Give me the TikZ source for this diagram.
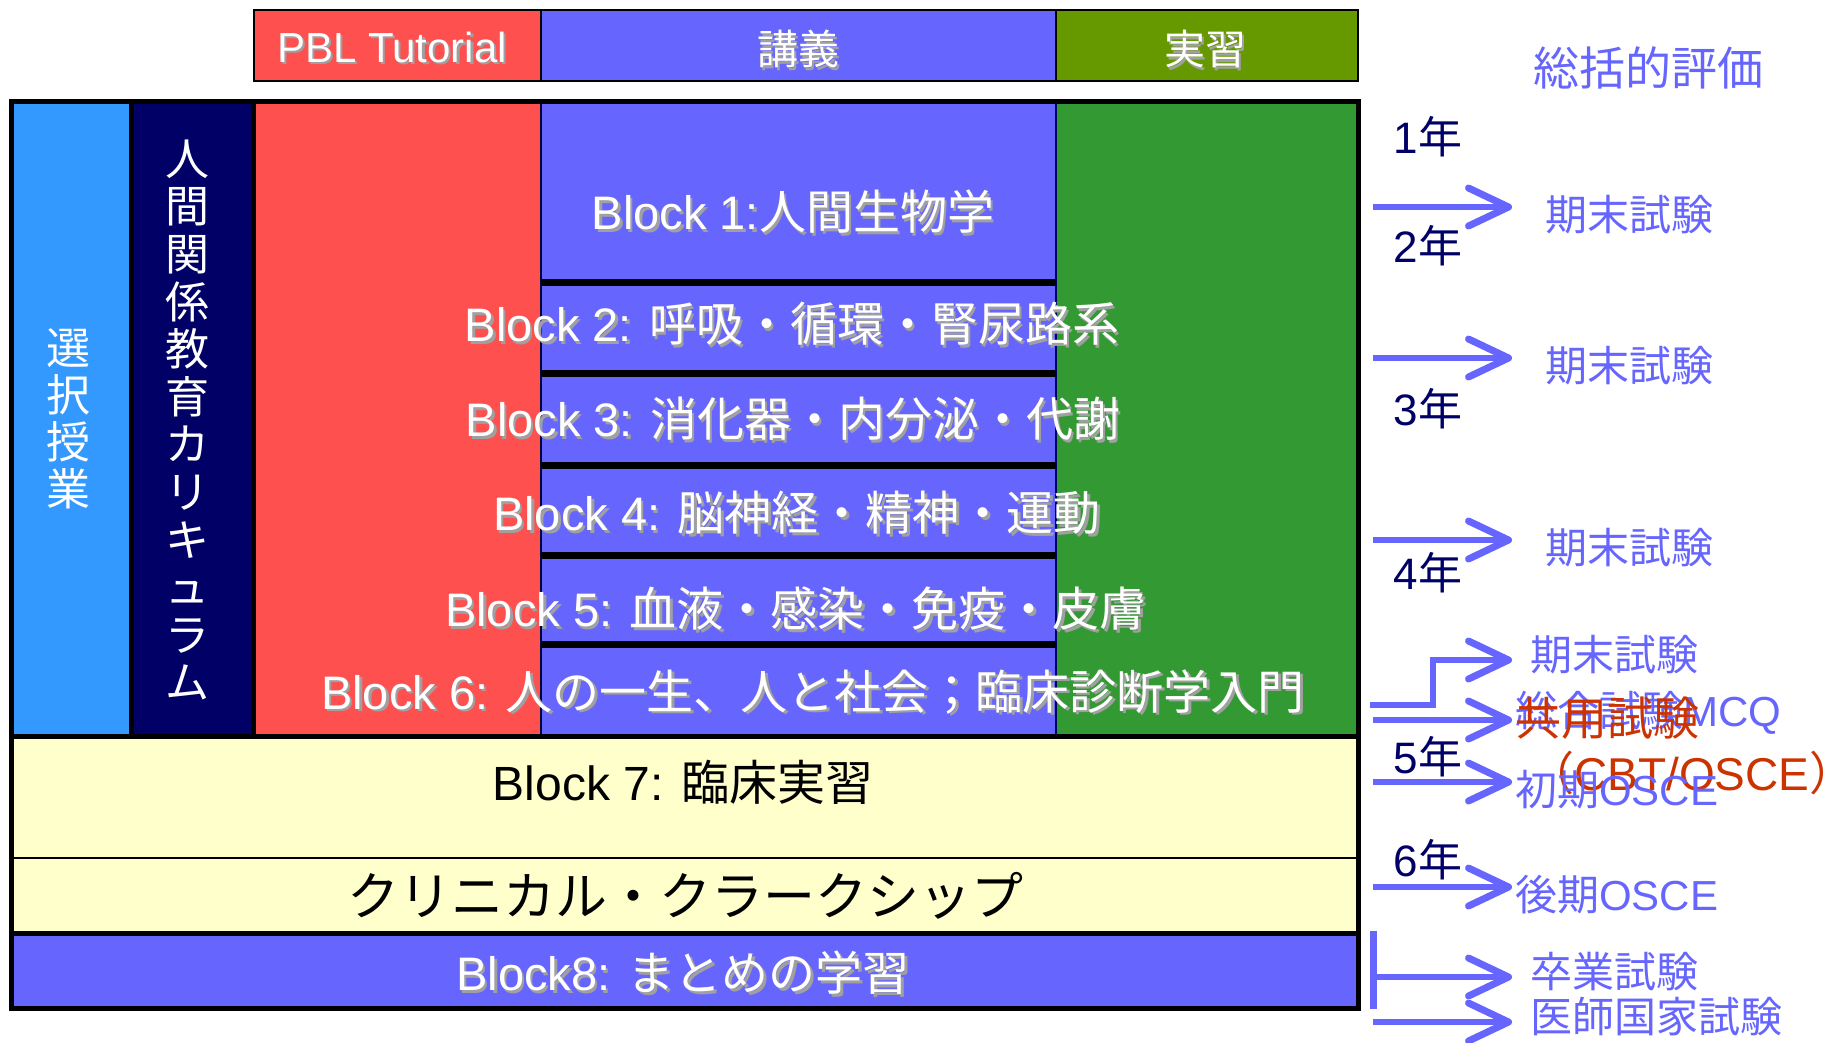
\documentclass[tikz,border=0pt]{standalone}
\usepackage{fontspec}
\setmainfont{Liberation Sans}
\newfontfamily\cjk{Noto Sans CJK JP}
\usetikzlibrary{arrows.meta}
\definecolor{skyb}{HTML}{3399FF}
\definecolor{navyc}{HTML}{000066}
\definecolor{redc}{HTML}{FF5050}
\definecolor{lect}{HTML}{6666FF}
\definecolor{greenc}{HTML}{339933}
\definecolor{olivec}{HTML}{669900}
\definecolor{cream}{HTML}{FFFFCC}
\definecolor{redtxt}{HTML}{CC3300}
\definecolor{shad}{RGB}{160,160,160}
\newcommand\J[1]{{\cjk #1}}
\newcommand\fs[1]{\fontsize{#1}{#1}\selectfont}
\newcommand\wnode[4]{%
  \node[txt,text=shad,font={\fs{#3}}] (#1s) at ([shift={(2.5,2.5)}]#2) {#4};
  \node[txt,text=white,font={\fs{#3}}] (#1) at (#2) {#4};}
\begin{document}
\begin{tikzpicture}[x=1pt,y=-1pt,
  txt/.style={inner sep=0pt,anchor=center},
  lab/.style={inner sep=0pt,anchor=west,text=lect,font={\fs{42}\cjk}},
  yr/.style={inner sep=0pt,anchor=center,text=navyc,font={\fs{44}}},
  evalarrow/.style={line width=6pt,draw=lect,line join=miter,
    -{Straight Barb[length=40pt,width=38pt,line width=7pt,round]}},
  thick line/.style={line width=5pt,draw=black}]
\useasboundingbox (0,0) rectangle (1835,1042);
\fill[white] (0,0) rectangle (1835,1042);
% header
\filldraw[draw=black,line width=2pt,fill=redc] (254,10) rectangle (541,81);
\filldraw[draw=black,line width=2pt,fill=lect] (541,10) rectangle (1056,81);
\filldraw[draw=black,line width=2pt,fill=olivec] (1056,10) rectangle (1358,81);
% main body fills
\fill[skyb] (11,101) rectangle (131,736);
\fill[navyc] (131,101) rectangle (253,736);
\fill[redc] (253,101) rectangle (541,736);
\fill[lect] (541,101) rectangle (1056,736);
\fill[greenc] (1056,101) rectangle (1358,736);
\fill[cream] (11,736) rectangle (1358,933);
\fill[lect] (11,933) rectangle (1358,1008);
\draw[line width=1.5pt,draw=navyc!60!black] (541,101) -- (541,736);
\draw[line width=1.5pt,draw=navyc] (1056,101) -- (1056,736);
\foreach \yy in {282,373,465,555,644}{\draw[line width=7pt] (541,\yy) -- (1056,\yy);}
\draw[thick line] (131,101) -- (131,736);
\draw[thick line] (253,101) -- (253,736);
\draw[thick line] (11,736) -- (1358,736);
\draw[line width=2pt] (11,858) -- (1358,858);
\draw[thick line] (11,933) -- (1358,933);
\draw[thick line] (11,101) rectangle (1358,1008);
% header texts
\wnode{tpbl}{392,47}{42}{PBL Tutorial}
\wnode{tlec}{798,49}{41}{\J{講義}}
\wnode{tjis}{1205,49}{41}{\J{実習}}
% vertical texts
\node[txt,text=white,align=center,font={\fontsize{44}{47}\selectfont\cjk}] (sentaku) at (68,419) {選\\択\\授\\業};
\node[txt,text=white,align=center,font={\fontsize{44}{47.6}\selectfont\cjk}] (ningen) at (187,420) {人\\間\\関\\係\\教\\育\\カ\\リ\\キ\\ュ\\ラ\\ム};
% block texts
\wnode{b1}{793,212}{47}{Block 1:\J{人間生物学}}
\wnode{b2}{792,324}{47}{Block 2: \J{呼吸・循環・腎尿路系}}
\wnode{b3}{793,419}{47}{Block 3: \J{消化器・内分泌・代謝}}
\wnode{b4}{797,513}{47}{Block 4: \J{脳神経・精神・運動}}
\wnode{b5}{796,609}{47}{Block 5: \J{血液・感染・免疫・皮膚}}
\wnode{b6}{813,692}{47}{Block 6: \J{人の一生、人と社会；臨床診断学入門}}
\node[txt,font={\fs{48}}] (b7) at (683,782) {Block 7: \J{臨床実習}};
\node[txt,font={\fs{52}\cjk}] (cc) at (685,896) {クリニカル・クラークシップ};
\wnode{b8}{683,973}{47}{Block8: \J{まとめの学習}}
% right side
\node[txt,text=lect,font={\fs{46}\cjk}] (sokatsu) at (1648,68) {総括的評価};
\node[yr] (y1) at (1428,137) {1\J{年}};
\node[yr] (y2) at (1428,246) {2\J{年}};
\node[yr] (y3) at (1428,409) {3\J{年}};
\node[yr] (y4) at (1428,573) {4\J{年}};
\node[yr] (y5) at (1428,757) {5\J{年}};
\node[yr] (y6) at (1428,860) {6\J{年}};
\coordinate (s1) at (1373,207); \coordinate (e1) at (1512,207);
\coordinate (s2) at (1373,358); \coordinate (e2) at (1512,358);
\coordinate (s3) at (1373,540); \coordinate (e3) at (1512,540);
\coordinate (s4) at (1370,705); \coordinate (k4) at (1433,660); \coordinate (e4) at (1512,660);
\coordinate (s5) at (1373,720); \coordinate (e5) at (1512,720);
\coordinate (s6) at (1373,782); \coordinate (e6) at (1512,782);
\coordinate (s7) at (1373,887); \coordinate (e7) at (1512,887);
\coordinate (bt) at (1373,931); \coordinate (bb) at (1373,1009);
\coordinate (s8) at (1373,977); \coordinate (e8) at (1512,977);
\coordinate (s9) at (1373,1022); \coordinate (e9) at (1512,1022);
\draw[evalarrow] (s1) -- (e1);
\draw[evalarrow] (s2) -- (e2);
\draw[evalarrow] (s3) -- (e3);
\draw[evalarrow] (s4) -| (k4) -- (e4);
\draw[evalarrow] (s5) -- (e5);
\draw[evalarrow] (s6) -- (e6);
\draw[evalarrow] (s7) -- (e7);
\draw[line width=7pt,draw=lect] (bt) -- (bb);
\draw[evalarrow] (s8) -- (e8);
\draw[evalarrow] (s9) -- (e9);
\node[lab] (k1) at (1545,215) {期末試験};
\node[lab] (k2) at (1545,366) {期末試験};
\node[lab] (k3) at (1545,548) {期末試験};
\node[lab] (k4t) at (1530,655) {期末試験};
\node[lab] (sogo) at (1515,713) {総合試験\rmfamily MCQ};
\node[lab,text=redtxt,font={\fs{46}\cjk}] (kyoyo) at (1515,718) {共用試験};
\node[lab,text=redtxt,font={\fs{46}\cjk}] (cbt) at (1528,773) {（\rmfamily CBT/OSCE\cjk）};
\node[lab] (shoki) at (1515,790) {初期\rmfamily OSCE};
\node[lab] (koki) at (1515,895) {後期\rmfamily OSCE};
\node[lab] (sotsu) at (1530,972) {卒業試験};
\node[lab] (kokka) at (1530,1017) {医師国家試験};
\end{tikzpicture}
\end{document}
